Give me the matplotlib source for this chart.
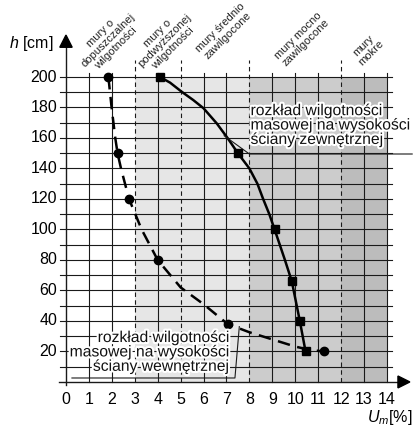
import matplotlib
matplotlib.use("Agg")
import matplotlib.pyplot as plt
import matplotlib.patheffects as pe
from matplotlib.patches import Polygon, Rectangle

plt.rcParams['font.family'] = ['Liberation Sans', 'DejaVu Sans']
plt.rcParams['mathtext.fontset'] = 'custom'
plt.rcParams['mathtext.rm'] = 'Liberation Sans'
plt.rcParams['mathtext.it'] = 'Liberation Sans:italic'

# measured points (markers)
ext_u = [4.1, 7.5, 9.1, 9.85, 10.2, 10.45]
ext_h = [200, 150, 100, 66, 40, 20]
int_u = [1.85, 2.25, 2.75, 4.0, 7.05, 11.25]
int_h = [200, 150, 120, 80, 38, 20]

# curves traced through the markers
ext_curve_u = [4.1, 4.54, 5.04, 5.55, 6.0, 6.58, 7.07, 7.5, 8.0, 8.35, 8.6, 8.87, 9.1, 9.55, 9.85, 10.2, 10.45]
ext_curve_h = [200, 196.3, 190.4, 184.9, 179.5, 169.5, 159.5, 150, 140, 130, 120, 110, 100, 80, 66, 40, 20]
int_curve_u = [1.85, 1.99, 2.15, 2.25, 2.4, 2.75, 3.3, 4.0, 5.0, 6.0, 7.05, 8.0, 10.0, 10.64, 11.25]
int_curve_h = [200, 180, 160, 150, 140, 120, 100, 80, 62, 51, 38, 32.6, 23.2, 21, 20]

# moisture classes
zones = [(3, 8, '#e6e6e6'), (8, 12, '#cccccc'), (12, 14, '#bcbcbc')]
zone_names = ['mury o\ndopuszczalnej\nwilgotności', 'mury o\npodwyższonej\nwilgotności',
              'mury średnio\nzawilgocone', 'mury mocno\nzawilgocone', 'mury\nmokre']
zone_label_u = [1.85, 4.32, 6.89, 10.28, 13.14]
zone_label_h = [224, 224, 229.7, 224.7, 218]
zone_borders = [3, 5, 8, 12]

x_ticks = list(range(0, 15))
y_ticks = list(range(20, 201, 20))

fig = plt.figure(figsize=(4.14, 4.28), dpi=100)
ax = fig.add_axes([0, 0, 1, 1])
ax.set_xlim(-2.878, 15.18)
ax.set_ylim(-30.2, 250.5)
ax.axis('off')

for u0, u1, c in zones:
    ax.add_patch(Rectangle((u0, 0), u1 - u0, 200, facecolor=c, edgecolor='none', zorder=0))

# grid
for h in range(10, 201, 10):
    ax.plot([-0.26, 14.2], [h, h], color='#1a1a1a', lw=0.8, zorder=1)
for u in range(1, 15):
    if u in zone_borders:
        ax.plot([u, u], [0, 211], color='#1a1a1a', lw=0.8, dashes=(4, 3), zorder=1)
    else:
        ax.plot([u, u], [0, 202.5], color='#1a1a1a', lw=0.8, zorder=1)

# axes with arrows
ax.plot([-0.3, 14.5], [0, 0], color='#1a1a1a', lw=1.0, zorder=2)
ax.plot([0, 0], [-2, 220], color='#1a1a1a', lw=1.0, zorder=2)
ax.add_patch(Polygon([[14.48, 3.9], [14.48, -3.9], [15.0, 0]], closed=True, color='black', zorder=2))
ax.add_patch(Polygon([[-0.27, 219.5], [0.27, 219.5], [0, 227.5]], closed=True, color='black', zorder=2))

for u in x_ticks:
    ax.text(u, -11.8, str(u), ha='center', va='center', fontsize=11.5)
for h in y_ticks:
    ax.text(-0.39, h, str(h), ha='right', va='center', fontsize=11.5)
ax.text(-0.56, 222, '$h$ [cm]', ha='right', va='center', fontsize=11.5)
ax.text(15.09, -23.6, '$U_m$[%]', ha='right', va='center', fontsize=11.5)

for name, u, h in zip(zone_names, zone_label_u, zone_label_h):
    ax.text(u, h, name, rotation=45, rotation_mode='anchor', ha='center', va='center',
            multialignment='center', fontsize=8, color='#222222', linespacing=1.05)

# curves
ax.plot(ext_curve_u, ext_curve_h, color='black', lw=1.8, zorder=3)
ax.plot(ext_u, ext_h, linestyle='none', marker='s', markersize=5.5, color='black', zorder=4)
ax.plot(int_curve_u, int_curve_h, color='black', lw=1.8, dashes=(5, 3), zorder=3)
ax.plot(int_u, int_h, linestyle='none', marker='o', markersize=6, color='black', zorder=4)

halo = [pe.withStroke(linewidth=3, foreground='white')]

# outer wall callout
ax.plot([6.9, 8.0, 15.1], [161.5, 149.5, 149.5], color='#1a1a1a', lw=0.8, zorder=3)
ax.text(8.05, 168.5, 'rozkład wilgotności\nmasowej na wysokości\nściany zewnętrznej',
        ha='left', va='center', multialignment='left', fontsize=11.3, color='#111111',
        linespacing=0.95, path_effects=halo, zorder=5)

# inner wall callout
ax.plot([0.26, 7.37, 7.56], [2.6, 2.6, 36.3], color='#1a1a1a', lw=0.8, zorder=3)
ax.text(7.15, 19.7, 'rozkład wilgotności\nmasowej na wysokości\nściany wewnętrznej',
        ha='right', va='center', multialignment='right', fontsize=11.3, color='#111111',
        linespacing=0.95, path_effects=halo, zorder=5)

fig.savefig('out.png', dpi=100)
